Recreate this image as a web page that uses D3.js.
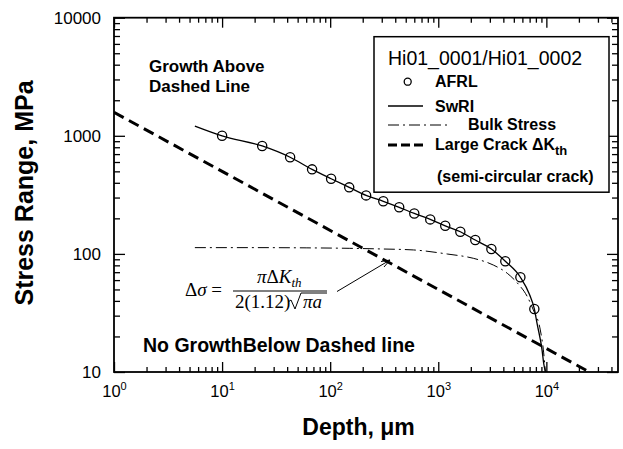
<!DOCTYPE html>
<html><head><meta charset="utf-8">
<script src="https://cdn.jsdelivr.net/npm/d3@7"></script>
<style>
body{margin:0;background:#fff;}
svg text{fill:#000;}
</style></head><body>
<svg id="chart" width="623" height="449" font-family="Liberation Sans, Arial, sans-serif"></svg>
<script>
// Crack depth (µm) and stress range (MPa)
const afrlDepth  = [10, 23.5, 42.6, 68, 102, 150, 215, 310, 435, 600, 843, 1160, 1600, 2200, 3100, 4170, 5750, 7740];
const afrlStress = [1000, 820, 658, 520, 433, 366, 313, 279, 248, 220, 196, 173, 154, 131, 110, 86.6, 63.4, 34.2];

const swriDepth  = [5.6, 10, 23.5, 42.6, 68, 102, 150, 215, 310, 435, 600, 843, 1160, 1600, 2200, 3100, 4170, 5750, 7000, 7740, 8200, 9120, 9450, 9800];
const swriStress = [1210, 1000, 820, 658, 520, 433, 366, 313, 279, 248, 220, 196, 173, 154, 131, 110, 86.6, 63.4, 45, 34.2, 25.8, 15.4, 11.8, 10];

const bulkDepth  = [5.6, 20, 60, 150, 310, 590, 1210, 2110, 3230, 4350, 5390, 6670, 7580, 8790, 9380, 9800];
const bulkStress = [113, 113, 112.5, 111.5, 110, 108, 99.8, 91.8, 80.5, 68.5, 56.7, 43.4, 33.5, 22.7, 15.4, 10];

// Large-crack threshold line, Δσ = πΔK_th / (2·1.12·√(πa))
const crackDepth  = [1, 25000];
const crackStress = [1580, 10];

const xMajor = [1, 10, 100, 1000, 10000];
const xMajorExp = ["0", "1", "2", "3", "4"];
const yMajor = [10, 100, 1000, 10000];
const yMajorLabels = ["10", "100", "1000", "10000"];

const svg = d3.select("#chart");
const L = 114, R = 618, T = 17.7, B = 372;

const x = d3.scaleLog().domain([1, 46000]).range([L, R]);
const y = d3.scaleLog().domain([10, 10000]).range([B, T]);

function minorTicks(lo, hi) {
  const out = [];
  for (let p = lo; p < hi; p *= 10)
    for (let k = 2; k <= 9; k++) out.push(p * k);
  return out;
}
const xMinor = minorTicks(1, 100000).filter(v => v < 46000);
const yMinor = minorTicks(10, 10000);

// clip to the plot frame
svg.append("defs").append("clipPath").attr("id", "plot")
  .append("rect").attr("x", L).attr("y", T).attr("width", R - L).attr("height", B - T);

function styleAxis(g) {
  g.attr("font-family", null).attr("font-size", null);
  g.select(".domain").remove();
  g.selectAll(".tick line").attr("stroke", "#000").attr("stroke-width", 1.3);
}

// bottom axis
svg.append("g").attr("transform", `translate(0,${B})`)
  .call(d3.axisBottom(x).tickValues(xMinor).tickSize(-5).tickFormat(""))
  .call(styleAxis);
const xb = svg.append("g").attr("transform", `translate(0,${B})`)
  .call(d3.axisBottom(x).tickValues(xMajor).tickSize(-10).tickFormat(""))
  .call(styleAxis);
xb.selectAll(".tick text").each(function(d, i) {
  const t = d3.select(this).attr("y", 24.5).attr("dy", 0)
    .style("font-size", "16.5px");
  t.text(null);
  t.append("tspan").text("10");
  t.append("tspan").style("font-size", "11px").attr("dy", -7).text(xMajorExp[i]);
});

// top axis (mirror)
svg.append("g").attr("transform", `translate(0,${T})`)
  .call(d3.axisTop(x).tickValues(xMinor).tickSize(-5).tickFormat(""))
  .call(styleAxis);
svg.append("g").attr("transform", `translate(0,${T})`)
  .call(d3.axisTop(x).tickValues(xMajor).tickSize(-10).tickFormat(""))
  .call(styleAxis);

// left axis
svg.append("g").attr("transform", `translate(${L},0)`)
  .call(d3.axisLeft(y).tickValues(yMinor).tickSize(-6).tickFormat(""))
  .call(styleAxis);
svg.append("g").attr("transform", `translate(${L},0)`)
  .call(d3.axisLeft(y).tickValues(yMajor).tickSize(-11).tickPadding(13)
    .tickFormat((d, i) => yMajorLabels[i]))
  .call(styleAxis)
  .selectAll(".tick text").style("font-size", "17px");

// right axis (mirror)
svg.append("g").attr("transform", `translate(${R},0)`)
  .call(d3.axisRight(y).tickValues(yMinor).tickSize(-6).tickFormat(""))
  .call(styleAxis);
svg.append("g").attr("transform", `translate(${R},0)`)
  .call(d3.axisRight(y).tickValues(yMajor).tickSize(-11).tickFormat(""))
  .call(styleAxis);

// frame
svg.append("rect").attr("x", L).attr("y", T).attr("width", R - L).attr("height", B - T)
  .attr("fill", "none").attr("stroke", "#000").attr("stroke-width", 1.8);

const plot = svg.append("g").attr("clip-path", "url(#plot)");
const line = d3.line().x(d => x(d[0])).y(d => y(d[1]));
const smooth = d3.line().x(d => x(d[0])).y(d => y(d[1])).curve(d3.curveMonotoneX);

// large-crack threshold
plot.append("path").datum(d3.zip(crackDepth, crackStress)).attr("d", line)
  .attr("fill", "none").attr("stroke", "#000").attr("stroke-width", 3)
  .attr("stroke-dasharray", "11,6");

// bulk stress
plot.append("path").datum(d3.zip(bulkDepth, bulkStress)).attr("d", smooth)
  .attr("fill", "none").attr("stroke", "#000").attr("stroke-width", 1)
  .attr("stroke-dasharray", "11,4,2,4");

// SwRI prediction
plot.append("path").datum(d3.zip(swriDepth, swriStress)).attr("d", smooth)
  .attr("fill", "none").attr("stroke", "#000").attr("stroke-width", 1.3);

// AFRL measurements
plot.selectAll("circle.afrl").data(d3.zip(afrlDepth, afrlStress)).join("circle")
  .attr("class", "afrl")
  .attr("cx", d => x(d[0])).attr("cy", d => y(d[1])).attr("r", 4.6)
  .attr("fill", "none").attr("stroke", "#000").attr("stroke-width", 1.3);

// region labels
function bold(sel, size) { return sel.style("font-size", size + "px").style("font-weight", "bold"); }
bold(svg.append("text").attr("x", 149).attr("y", 72), 17).text("Growth Above");
bold(svg.append("text").attr("x", 149).attr("y", 92), 17).text("Dashed Line");
bold(svg.append("text").attr("x", 143).attr("y", 352), 19.5).text("No GrowthBelow Dashed line");

// formula
const serif = "'Liberation Serif', 'Times New Roman', serif";
const f = svg.append("g").style("font-family", serif).style("font-size", "19px");
const t1 = f.append("text").attr("x", 185).attr("y", 296);
t1.append("tspan").text("Δ");
t1.append("tspan").style("font-style", "italic").text("σ");
t1.append("tspan").text(" =");
f.append("line").attr("x1", 233).attr("x2", 327).attr("y1", 291).attr("y2", 291)
  .attr("stroke", "#000").attr("stroke-width", 1);
const t2 = f.append("text").attr("x", 257).attr("y", 283);
t2.append("tspan").style("font-style", "italic").text("π");
t2.append("tspan").text("Δ");
t2.append("tspan").style("font-style", "italic").text("K");
t2.append("tspan").style("font-style", "italic").style("font-size", "13px").attr("dy", 4).text("th");
f.append("text").attr("x", 235).attr("y", 308).text("2(1.12)");
f.append("path").attr("d", "M288,302 L291,300 L295,309 L301,293 L327,293")
  .attr("fill", "none").attr("stroke", "#000").attr("stroke-width", 1);
f.append("text").attr("x", 303).attr("y", 308).style("font-style", "italic").text("πa");

// arrow from formula to threshold line
svg.append("line").attr("x1", 337).attr("y1", 291.5).attr("x2", 390).attr("y2", 260)
  .attr("stroke", "#000").attr("stroke-width", 1);
svg.append("path").attr("d", "M381,261.5 L390,260 L384,267")
  .attr("fill", "none").attr("stroke", "#000").attr("stroke-width", 1);

// axis titles
bold(svg.append("text").attr("transform", "translate(33,193) rotate(-90)")
  .attr("text-anchor", "middle"), 25).text("Stress Range, MPa");
bold(svg.append("text").attr("x", 358.5).attr("y", 435).attr("text-anchor", "middle"), 23)
  .text("Depth, μm");

// legend
const lg = svg.append("g");
lg.append("rect").attr("x", 374).attr("y", 36.7).attr("width", 235).attr("height", 155.5)
  .attr("fill", "#fff").attr("stroke", "#000").attr("stroke-width", 1.5);
lg.append("text").attr("x", 388).attr("y", 65).style("font-size", "19.5px").text("Hi01_0001/Hi01_0002");
lg.append("circle").attr("cx", 407.7).attr("cy", 81.7).attr("r", 3.5)
  .attr("fill", "none").attr("stroke", "#000").attr("stroke-width", 1.3);
bold(lg.append("text").attr("x", 435).attr("y", 87), 16).text("AFRL");
lg.append("line").attr("x1", 388).attr("x2", 423).attr("y1", 106).attr("y2", 106)
  .attr("stroke", "#000").attr("stroke-width", 1.3);
bold(lg.append("text").attr("x", 435).attr("y", 111.5), 16).text("SwRI");
lg.append("line").attr("x1", 388).attr("x2", 448).attr("y1", 125).attr("y2", 125)
  .attr("stroke", "#000").attr("stroke-width", 1).attr("stroke-dasharray", "11,4,2,4");
bold(lg.append("text").attr("x", 468).attr("y", 130), 16).text("Bulk Stress");
lg.append("line").attr("x1", 388).attr("x2", 423).attr("y1", 145).attr("y2", 145)
  .attr("stroke", "#000").attr("stroke-width", 3).attr("stroke-dasharray", "9,4");
const lc = bold(lg.append("text").attr("x", 435).attr("y", 150), 16);
lc.append("tspan").text("Large Crack ΔK");
lc.append("tspan").style("font-size", "13px").attr("dy", 5).text("th");
bold(lg.append("text").attr("x", 437).attr("y", 181.5), 16).text("(semi-circular crack)");
</script>
</body></html>
